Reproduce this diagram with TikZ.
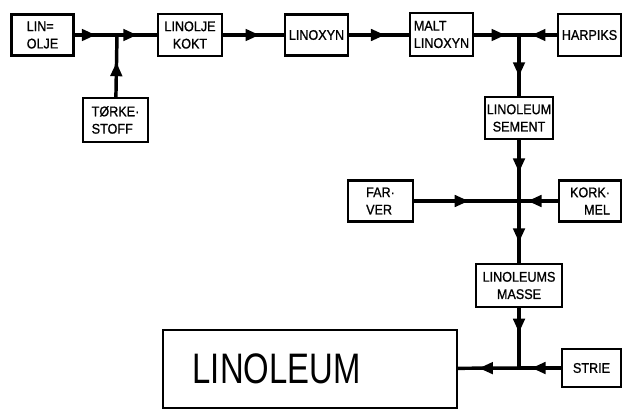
\documentclass[tikz,border=0pt]{standalone}
\usepackage{fontspec}
\setmainfont{Liberation Sans}
\newfontfamily\boxfont[FakeStretch=0.9,FakeBold=1]{Liberation Sans}
\newfontfamily\bigfont[FakeStretch=0.77]{Liberation Sans}
\usetikzlibrary{arrows.meta, decorations.markings}

\begin{document}
\begin{tikzpicture}[x=0.75pt,y=0.75pt,yscale=-1,xscale=1,
    box/.style={draw, line width=1.8pt, inner sep=1pt, font=\boxfont\fontsize{10.5}{13}\selectfont},
    flow/.style={line width=2.6pt, line cap=rect, postaction={decorate},
      decoration={markings, mark=at position #1 with {\arrow{Triangle[length=10.5pt,width=8.5pt]}}}}]
    \useasboundingbox (0,0) rectangle (623,410);

    % junctions
    \coordinate (j1) at (117,35);
    \coordinate (j2) at (519,35);
    \coordinate (j3) at (519,201);
    \coordinate (j4) at (519,368);

    % top row
    \node (lin) [box, minimum width=46.5pt, minimum height=30.75pt, align=left] at (42.5,35) {LIN=\\OLJE};
    \node (torke) [box, minimum width=48.75pt, minimum height=33pt, align=left] at (115.5,120) {TØRKE·\\STOFF};
    \node (kokt) [box, minimum width=48pt, minimum height=31.5pt, align=center] at (190,35) {LINOLJE\\KOKT};
    \node (linoxyn) [box, minimum width=47.25pt, minimum height=30.75pt] at (316.5,35) {LINOXYN};
    \node (malt) [box, minimum width=47.25pt, minimum height=32.25pt, align=left] at (441.5,34.5) {MALT\\LINOXYN};
    \node (harpiks) [box, minimum width=47.25pt, minimum height=31.5pt] at (589.5,35) {HARPIKS};

    % right column
    \node (sement) [box, minimum width=51pt, minimum height=31.5pt, align=center] at (519,118) {LINOLEUM\\SEMENT};
    \node (farver) [box, minimum width=48.75pt, minimum height=30.75pt, align=left] at (380.5,201) {FAR·\\VER};
    \node (kork) [box, minimum width=46.5pt, minimum height=30.75pt, align=right] at (590,201) {KORK·\\MEL};
    \node (masse) [box, minimum width=64.5pt, minimum height=32.25pt, align=center] at (519,285.5) {LINOLEUMS\\MASSE};
    \node (strie) [box, minimum width=44.25pt, minimum height=28.5pt] at (591.5,368) {STRIE};

    % end product
    \node (linoleum) [draw, line width=1.8pt, minimum width=220.5pt, minimum height=58.5pt,
      text width=200pt, align=left, font=\bigfont\fontsize{32}{34}\selectfont] at (310,369)
      {\hspace*{12pt}LINOLEUM};

    % connectors
    \draw [flow=0.5] (lin) -- (j1);
    \draw [flow=0.51] (j1) -- (kokt);
    \draw [flow=0.56] (torke) -- (j1);
    \draw [flow=0.6] (kokt) -- (linoxyn);
    \draw [flow=0.6] (linoxyn) -- (malt.west |- linoxyn);
    \draw [flow=0.7] (malt.east |- j2) -- (j2);
    \draw [flow=0.67] (harpiks) -- (j2);
    \draw [flow=0.68] (j2) -- (sement);
    \draw [flow=0.53] (sement) -- (j3);
    \draw [flow=0.52] (farver) -- (j3);
    \draw [flow=0.78] (kork) -- (j3);
    \draw [flow=0.67] (j3) -- (masse);
    \draw [flow=0.41] (masse) -- (j4);
    \draw [flow=0.7] (strie) -- (j4);
    \draw [flow=0.66] (j4) -- (linoleum);
\end{tikzpicture}
\end{document}
